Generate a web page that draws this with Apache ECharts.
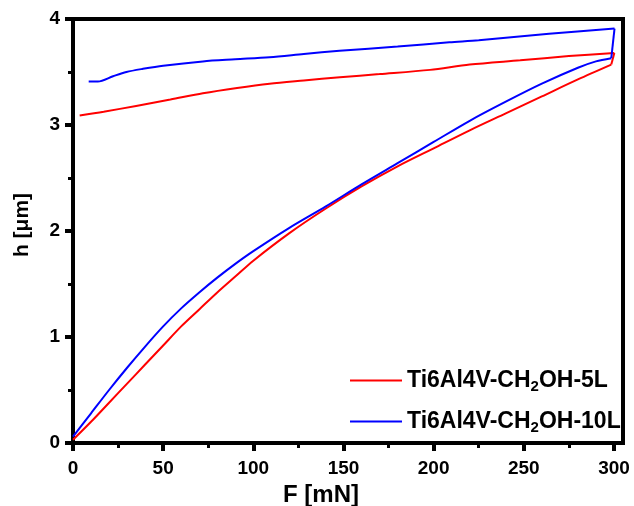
<!DOCTYPE html>
<html>
<head>
<meta charset="utf-8">
<script src="https://cdn.jsdelivr.net/npm/echarts@6/dist/echarts.min.js"></script>
<style>
  html, body { margin: 0; padding: 0; background: #fff; }
  #chart { width: 634px; height: 506px; }
</style>
</head>
<body>
<div id="chart"></div>
<script>
// Load–displacement curves: loading branch then unloading branch, [F (mN), h (µm)]
const redLoading = [
  [0, 0.03], [10, 0.20], [20, 0.38], [30, 0.56], [40, 0.74], [50, 0.92],
  [60, 1.10], [70, 1.26], [80, 1.42], [90, 1.57], [100, 1.72], [120, 1.98],
  [140, 2.21], [160, 2.42], [180, 2.61], [200, 2.78], [220, 2.95], [240, 3.11],
  [260, 3.27], [280, 3.43], [298.5, 3.57]
];
const redUnloading = [
  [300.2, 3.68], [275, 3.65], [248, 3.61], [220, 3.57], [198, 3.52], [170, 3.48],
  [148, 3.45], [128, 3.42], [109, 3.39], [91, 3.35], [72, 3.30], [54, 3.24],
  [35, 3.18], [17, 3.125], [3.7, 3.09]
];
const blueLoading = [
  [0, 0.06], [10, 0.28], [20, 0.50], [30, 0.71], [40, 0.91], [50, 1.10],
  [60, 1.27], [70, 1.42], [80, 1.56], [90, 1.69], [100, 1.81], [120, 2.03],
  [140, 2.23], [160, 2.44], [180, 2.64], [200, 2.84], [220, 3.04], [240, 3.22],
  [260, 3.39], [280, 3.54], [290, 3.60], [298.5, 3.63]
];
const blueUnloading = [
  [300.3, 3.91], [264, 3.86], [225, 3.80], [208.7, 3.78], [180, 3.74], [147.8, 3.70],
  [128, 3.67], [109, 3.64], [90, 3.62], [72, 3.60], [50, 3.56], [38.8, 3.53],
  [29.6, 3.50], [22.2, 3.46], [13.8, 3.41], [8.7, 3.41]
];

const seriesNames = ['Ti6Al4V-CH2OH-5L', 'Ti6Al4V-CH2OH-10L'];
const seriesColors = ['#ff0000', '#0000ff'];

const xMajorTicks = [0, 50, 100, 150, 200, 250, 300];
const xMinorTicks = [25, 75, 125, 175, 225, 275];

const FONT = '"Liberation Sans", Arial, sans-serif';

const chart = echarts.init(document.getElementById('chart'), null, { renderer: 'canvas' });

const baseX = {
  type: 'value',
  min: 0,
  max: 305,
  splitLine: { show: false }
};

// One sample = smooth loading branch, straight hold segment, smooth unloading branch
function sampleSeries(name, color, loading, unloading) {
  const common = {
    name: name,
    type: 'line',
    xAxisIndex: 0,
    symbol: 'none',
    lineStyle: { color: color, width: 2 },
    itemStyle: { color: color }
  };
  return [
    Object.assign({}, common, { smooth: 0.3, data: loading }),
    Object.assign({}, common, { smooth: false, data: [loading[loading.length - 1], unloading[0]] }),
    Object.assign({}, common, { smooth: 0.3, data: unloading })
  ];
}

chart.setOption({
  animation: false,
  backgroundColor: '#fff',
  grid: {
    left: 73, right: 11, top: 19, bottom: 63,
    containLabel: false,
    outerBoundsMode: 'none',
    show: true, borderColor: '#000', borderWidth: 4, backgroundColor: 'transparent'
  },
  legend: {
    orient: 'vertical',
    left: 350,
    top: 367,
    padding: 0,
    itemWidth: 52,
    itemHeight: 14,
    itemGap: 14,
    icon: 'path://M0,0 L52,0 L52,2 L0,2 Z',
    data: seriesNames,
    formatter: function (name) {
      const parts = name.split('2');
      return '{t|' + parts[0] + '}{s|2}{t|' + parts[1] + '}';
    },
    textStyle: {
      rich: {
        t: { fontFamily: FONT, fontWeight: 'bold', fontSize: 23, color: '#000', lineHeight: 27 },
        s: { fontFamily: FONT, fontWeight: 'bold', fontSize: 15, color: '#000', lineHeight: 27, padding: [12, 0, 0, 0] }
      }
    }
  },
  xAxis: [
    Object.assign({}, baseX, {
      name: 'F [mN]',
      nameLocation: 'middle',
      nameGap: 38,
      nameTextStyle: { fontFamily: FONT, fontWeight: 'bold', fontSize: 24, color: '#000', padding: [0, 54, 0, 0] },
      axisLine: { show: true, lineStyle: { color: '#000', width: 4 } },
      axisTick: { show: true, inside: false, length: 8, customValues: xMajorTicks, lineStyle: { color: '#000', width: 4 } },
      axisLabel: { show: true, customValues: xMajorTicks, margin: 16, fontFamily: FONT, fontWeight: 'bold', fontSize: 19, color: '#000' }
    }),
    Object.assign({}, baseX, {
      position: 'bottom',
      axisLine: { show: false },
      axisTick: { show: true, inside: false, length: 5, customValues: xMinorTicks, lineStyle: { color: '#000', width: 3 } },
      axisLabel: { show: false }
    })
  ],
  yAxis: {
    type: 'value',
    min: 0,
    max: 4,
    interval: 1,
    name: 'h [\u03bcm]',
    nameLocation: 'middle',
    nameGap: 40,
    nameRotate: 90,
    nameTextStyle: { fontFamily: FONT, fontWeight: 'bold', fontSize: 21, color: '#000', padding: [0, 0, 0, 12] },
    splitLine: { show: false },
    axisLine: { show: true, lineStyle: { color: '#000', width: 4 } },
    axisTick: { show: true, inside: false, length: 8, lineStyle: { color: '#000', width: 4 } },
    minorTick: { show: true, splitNumber: 2, length: 5, lineStyle: { color: '#000', width: 3 } },
    axisLabel: { margin: 13, fontFamily: FONT, fontWeight: 'bold', fontSize: 19, color: '#000' }
  },
  series: [].concat(
    sampleSeries(seriesNames[0], seriesColors[0], redLoading, redUnloading),
    sampleSeries(seriesNames[1], seriesColors[1], blueLoading, blueUnloading)
  )
});
</script>
</body>
</html>
